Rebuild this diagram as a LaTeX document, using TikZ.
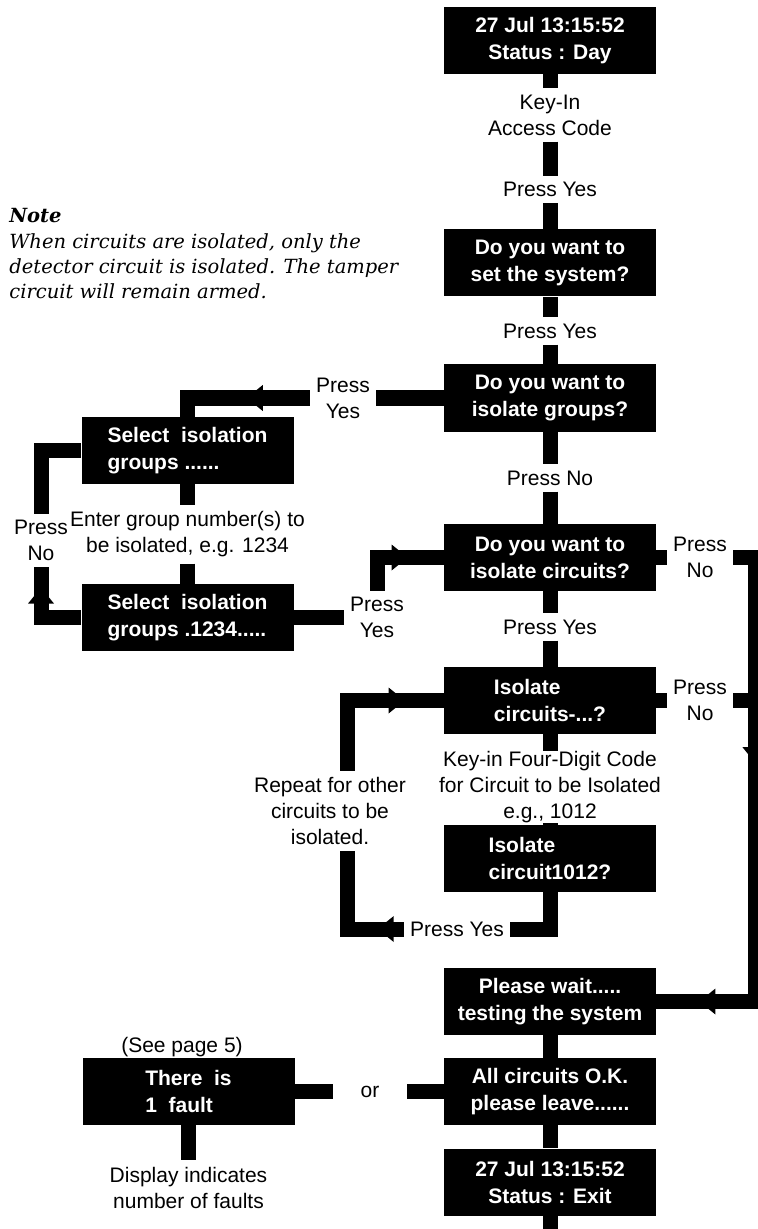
\documentclass[tikz,border=0pt]{standalone}
\usepackage{fontspec}
\setmainfont{Liberation Sans}
\newfontfamily\notefont{DejaVu Serif}
\usetikzlibrary{decorations.markings}

\tikzset{
  screen/.style={fill=black, text=white, font=\bfseries\fontsize{10.5}{13.5}\selectfont,
    minimum width=106pt, minimum height=33.5pt, align=center, inner sep=2pt},
  lbl/.style={font=\fontsize{10.5}{13}\selectfont, align=center, inner sep=3pt},
  bar/.style={line width=7.5pt},
  arrowat/.style={postaction={decorate, decoration={markings,
    mark=at position #1 with {\fill (0pt,0pt) -- (-8pt,6.5pt) -- (-8pt,-6.5pt) -- cycle;}}}},
}

\begin{document}
\begin{tikzpicture}[x=0.5pt, y=-0.5pt]
    \useasboundingbox (0,0) rectangle (757,1229);

    % main column
    \node[screen] (day) at (550,40.5) {27 Jul 13:15:52\\Status : Day};
    \node[lbl] (keyin) at (550,115) {Key-In\\Access Code};
    \node[lbl] (yesa) at (550,189.5) {Press Yes};
    \node[screen] (setsys) at (550,263) {Do you want to\\set the system?};
    \node[lbl] (yesb) at (550,331) {Press Yes};
    \node[screen] (isogrp) at (550,398) {Do you want to\\isolate groups?};
    \node[lbl] (noa) at (550,478) {Press No};
    \node[screen] (isocct) at (550,557.5) {Do you want to\\isolate circuits?};
    \node[lbl] (yesc) at (550,627) {Press Yes};
    \node[screen, align=left] (cctq) at (550,700.5) {Isolate\\circuits-...?};
    \node[lbl, inner ysep=0pt] (code) at (550,787) {Key-in Four-Digit Code\\for Circuit to be Isolated\\e.g., 1012};
    \node[screen, align=left] (cctnum) at (550,858.5) {Isolate\\circuit1012?};
    \node[lbl] (yesd) at (457,929) {Press Yes};
    \node[lbl] (again) at (330,811) {Repeat for other\\circuits to be\\isolated.};
    \node[screen] (wait) at (550,1001.5) {Please wait.....\\testing the system};
    \node[screen] (allok) at (550,1091.5) {All circuits O.K.\\please leave......};
    \node[screen] (exit) at (550,1182) {27 Jul 13:15:52\\Status : Exit};
    \coordinate (tail) at (550,1240);

    % isolate groups
    \node[lbl] (yesl) at (343,398) {Press\\Yes};
    \node[screen, align=left] (selgrp) at (187.5,450.5) {Select~~isolation\\groups ......};
    \node[lbl] (enter) at (187.5,534.5) {Enter group number(s) to\\be isolated, e.g. 1234};
    \node[screen, align=left] (selnum) at (187.5,617.5) {Select~~isolation\\groups .1234.....};
    \node[lbl] (nol) at (41,540.5) {Press\\No};
    \node[lbl] (yesr) at (377,617.5) {Press\\Yes};

    % right hand side
    \node[lbl] (nob) at (700,557.5) {Press\\No};
    \node[lbl] (noc) at (700,700.5) {Press\\No};
    \coordinate (rcol) at (755.5,1001.5);

    % faults
    \node[screen, align=left] (fault) at (188.5,1091.5) {There~~is\\1~~fault};
    \node[lbl] (seepg) at (182,1047) {(See page 5)};
    \node[lbl, minimum width=37pt] (orl) at (370,1091.5) {or};
    \node[lbl] (faults) at (188.5,1187.5) {Display indicates\\number of faults};

    % note
    \node[anchor=north west, align=left, inner sep=0pt,
          font=\notefont\itshape\fontsize{9.75}{12.7}\selectfont] (note) at (9,208)
          {\textbf{Note}\\When circuits are isolated, only the\\detector circuit is isolated. The tamper\\circuit will remain armed.};

    \draw[bar] (day) -- (keyin);
    \draw[bar] (keyin) -- (yesa);
    \draw[bar] (yesa) -- (setsys);
    \draw[bar] (setsys) -- (yesb);
    \draw[bar] (yesb) -- (isogrp);
    \draw[bar] (isogrp) -- (noa);
    \draw[bar] (noa) -- (isocct);
    \draw[bar] (isocct) -- (yesc);
    \draw[bar] (yesc) -- (cctq);
    \draw[bar] (cctq) -- (code);
    \draw[bar] (code) -- (cctnum);
    \draw[bar] (cctnum) |- (yesd);
    \draw[bar, arrowat=13pt] (yesd) -| ([xshift=8.5pt]again.south);
    \draw[bar, arrowat=-19.5pt] ([xshift=8.5pt]again.north) |- (cctq);
    \draw[bar] (wait) -- (allok);
    \draw[bar] (allok) -- (exit);
    \draw[bar] (exit) -- (tail);

    % groups loop
    \draw[bar] (isogrp) -- (yesl);
    \draw[bar, arrowat=31.5pt] (yesl) -| (selgrp);
    \draw[bar] (selgrp) -- (enter);
    \draw[bar] (enter) -- (selnum);
    \draw[bar, arrowat=35pt] (selnum) -| (nol);
    \draw[bar] (nol) |- (selgrp);
    \draw[bar] (selnum) -- (yesr);
    \draw[bar, arrowat=-18pt] (yesr) |- (isocct);

    % Press No down to the test
    \draw[bar] (isocct) -- (nob);
    \draw[bar] (cctq) -- (noc);
    \draw[bar] (noc) -- (noc -| rcol);
    \draw[bar, arrowat=114pt, arrowat=-21.5pt] (nob) -| (rcol) -- (wait);

    % or
    \draw[bar] (allok) -- (orl);
    \draw[bar] (orl) -- (fault);
    \draw[bar] (fault) -- (faults);
\end{tikzpicture}
\end{document}
